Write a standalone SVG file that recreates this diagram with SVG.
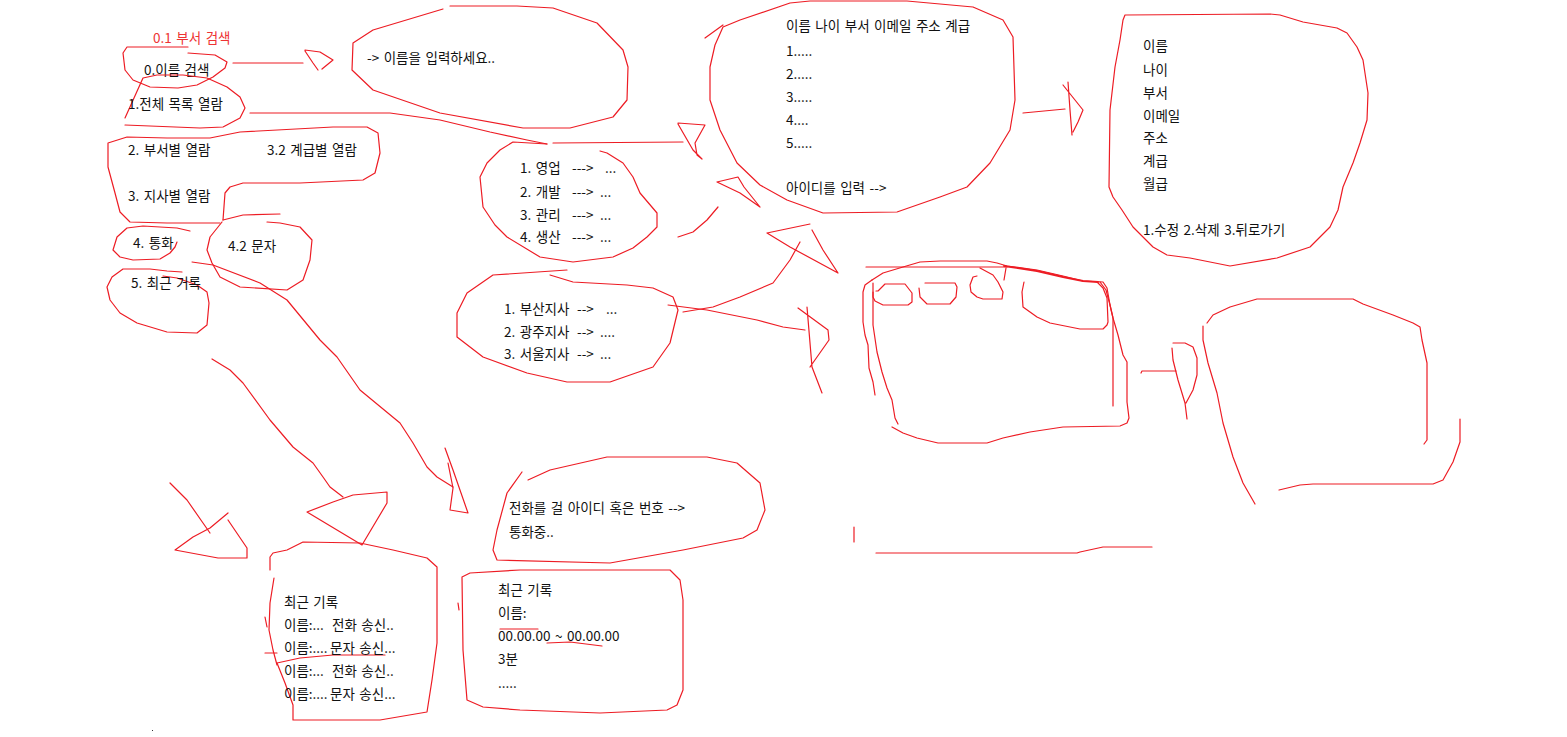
<svg xmlns="http://www.w3.org/2000/svg" width="1567" height="737" viewBox="0 0 1567 737">
<style>
.s{fill:none;stroke:#ed1c24;stroke-width:1.2;stroke-linejoin:round;stroke-linecap:round}
.thick{fill:none;stroke:#ed1c24;stroke-width:1.9;stroke-linecap:round}
.t{font-family:"Noto Sans CJK KR","Noto Sans",sans-serif;font-size:13.5px;fill:#111;word-spacing:1.5px}
.r{fill:#ee3333}
</style>
<rect width="1567" height="737" fill="#fff"/>

<g id="title">
<text class="t r" x="153" y="43">0.1 부서 검색</text>
</g>

<g id="n-search-name">
<path class="s" d="M188,47 L127,47 L123,53 L125,70 L133,80 L150,87 L178,88 L197,85 L213,77 L225,68 L227,62 L215,55 L188,53"/>
<text class="t" x="144" y="75">0.이름 검색</text>
</g>

<g id="n-list-all">
<path class="s" d="M143,78 L125,118 M143,78 L157,75 L183,75 L207,78 L227,87 L240,97 L245,108 L240,118 L223,127 L200,128 L125,125"/>
<text class="t" x="128" y="109">1.전체 목록 열람</text>
</g>

<g id="n-dept-branch">
<path class="s" d="M223,220 L225,193 L230,187 L243,183 L300,183 L363,180 L375,173 L380,153 L378,133 L367,127 L333,127 L240,132 L210,138 L167,138 L127,137 L108,143 L108,167 L115,193 L120,212 L130,222 L167,223 L220,223"/>
<text class="t" x="128" y="155">2. 부서별 열람</text>
<text class="t" x="267" y="155">3.2 계급별 열람</text>
<text class="t" x="128" y="201">3. 지사별 열람</text>
</g>

<g id="n-call">
<path class="s" d="M190,231 L177,228 L143,226 L127,228 L117,237 L113,250 L120,257 L133,260 L160,259 L170,253 L175,247 L177,242"/>
<text class="t" x="133" y="248">4. 통화</text>
</g>

<g id="n-sms">
<path class="s" d="M222,222 L210,237 L207,250 L212,263 L220,277 L240,287 L287,290 L303,280 L310,260 L312,240 L300,227 L280,223 L267,222 M223,220 L243,215 L280,214"/>
<text class="t" x="228" y="251">4.2 문자</text>
</g>

<g id="n-recent">
<path class="s" d="M182,272 L167,271 L150,269 L123,269 L112,277 L107,287 L110,300 L120,313 L137,323 L167,332 L197,333 L207,325 L209,303 L207,292 L197,285 L177,278 L163,276"/>
<text class="t" x="131" y="288">5. 최근 거록</text>
</g>

<g id="n-name-input">
<path class="s" d="M450,6 L517,6 L553,8 L597,23 L623,50 L628,67 L627,100 L613,117 L570,128 L523,128 L440,113 L373,90 L352,70 L353,43 L373,30 L443,9"/>
<text class="t" x="367" y="63">-&gt; 이름을 입력하세요..</text>
</g>

<g id="n-depts">
<path class="s" d="M547,144 L513,142 L500,150 L487,163 L480,177 L483,207 L495,225 L507,237 L540,257 L573,262 L613,257 L633,248 L647,237 L657,227 L657,213 L640,193 L633,177 L623,163 L607,153 L600,151"/>
<text class="t"><tspan x="520" y="173">1. 영업</tspan><tspan x="572" y="173">---&gt;</tspan><tspan x="605" y="173">...</tspan></text>
<text class="t"><tspan x="520" y="197">2. 개발</tspan><tspan x="572" y="197">---&gt;</tspan><tspan x="600" y="197">...</tspan></text>
<text class="t"><tspan x="520" y="220">3. 관리</tspan><tspan x="572" y="220">---&gt;</tspan><tspan x="600" y="220">...</tspan></text>
<text class="t"><tspan x="520" y="242">4. 생산</tspan><tspan x="572" y="242">---&gt;</tspan><tspan x="600" y="242">...</tspan></text>
</g>

<g id="n-list">
<path class="s" d="M705,38 L723,25 M723,27 L715,45 L710,67 L710,100 L720,130 L737,163 L760,185 L787,200 L823,213 L897,212 L940,197 L967,187 L990,163 L1010,130 L1015,100 L1013,37 L1003,20 L973,7 L907,1 L810,1 L790,3 L740,20 L723,27"/>
<text class="t" x="786" y="31">이름 나이 부서 이메일 주소 계급</text>
<text class="t" x="786" y="56">1.....</text>
<text class="t" x="786" y="79">2.....</text>
<text class="t" x="786" y="102">3.....</text>
<text class="t" x="786" y="125">4....</text>
<text class="t" x="786" y="148">5.....</text>
<text class="t" x="786" y="193">아이디를 입력 --&gt;</text>
</g>

<g id="n-detail">
<path class="s" d="M1125,15 L1123,20 L1120,40 L1115,67 L1110,110 L1109,187 L1113,197 L1122,210 L1133,227 L1153,247 L1167,255 L1190,258 L1230,266 L1277,258 L1310,247 L1330,227 L1338,210 L1343,187 L1353,163 L1360,143 L1367,120 L1368,93 L1363,60 L1357,47 L1347,33 L1337,28 L1303,22 L1280,15 L1270,14 L1125,15"/>
<text class="t" x="1143" y="51">이름</text>
<text class="t" x="1143" y="75">나이</text>
<text class="t" x="1143" y="98">부서</text>
<text class="t" x="1143" y="121">이메일</text>
<text class="t" x="1143" y="143">주소</text>
<text class="t" x="1143" y="166">계급</text>
<text class="t" x="1143" y="189">월급</text>
<text class="t" x="1143" y="235">1.수정 2.삭제 3.뒤로가기</text>
</g>

<g id="n-branches">
<path class="s" d="M567,270 L493,275 L467,293 L457,313 L457,337 L483,357 L527,373 L567,382 L610,382 L653,367 L670,343 L678,310 L673,297 L653,288 L627,285 L573,282 L550,275"/>
<text class="t"><tspan x="504" y="314">1. 부산지사</tspan><tspan x="577" y="314">--&gt;</tspan><tspan x="606" y="314">...</tspan></text>
<text class="t"><tspan x="504" y="337">2. 광주지사</tspan><tspan x="577" y="337">--&gt;</tspan><tspan x="600" y="337">....</tspan></text>
<text class="t"><tspan x="504" y="359">3. 서울지사</tspan><tspan x="577" y="359">--&gt;</tspan><tspan x="600" y="359">...</tspan></text>
</g>

<g id="n-phone">
<path class="s" d="M866,267 L1007,267"/>
<path class="s" d="M872,280 L883,273 L903,267 L920,262 L940,261 L987,261 L997,263 L1007,266 L1037,270 L1063,276 L1083,281 L1103,282 L1107,288 L1110,305 L1113,318 L1118,335 L1123,355 L1127,362 L1127,402 L1129,418 L1127,423 L1120,426 L1063,427 L1030,432 L1003,438 L987,443 L938,443 L917,438 L903,433 L892,427"/>
<path class="thick" d="M1004,266 L1037,271 L1063,277 L1083,281 L1098,282"/>
<path class="s" d="M872,280 L865,285 L863,292 L863,322 L865,335 L868,345 L869,368 L873,382 L875,395"/>
<path class="s" d="M873,283 L873,325 L877,352 L882,372 L887,388 L892,400 L895,418 L898,424"/>
<path class="s" d="M1100,282 L1106,290 L1110,305 L1113,318 L1113,406"/>
<path class="s" d="M1024,282 L1022,292 L1023,307 L1037,317 L1050,323 L1080,329 L1103,329 L1107,325 L1108,322 L1107,298 L1103,288 L1097,282"/>
<path class="s" d="M876,291 L878,291 L885,284 L905,284 L912,293 L912,302 L908,305 L883,305 L875,301 L873,297 L873,292"/>
<path class="s" d="M925,283 L955,283 L957,287 L956,297 L950,304 L927,304 L920,297 L919,288"/>
<path class="s" d="M977,276 L973,277 L970,285 L971,292 L977,297 L983,299 L1002,299 L1003,292 L998,282 L993,275 L980,268"/>
<path class="s" d="M1006,268 L1004,280"/>
</g>

<g id="n-screen">
<path class="s" d="M1207,323 L1213,315 L1230,307 L1257,299 L1353,299 L1363,304 L1393,315 L1413,323 L1420,327 L1422,340 L1427,363 L1427,440 L1424,444"/>
<path class="s" d="M1203,326 L1203,340 L1208,363 L1217,393 L1223,423 L1233,457 L1243,483 L1255,504"/>
<path class="s" d="M1279,490 L1300,485 L1313,484 L1433,484 L1443,480 L1453,462 L1460,442 L1460,419"/>
</g>

<g id="n-bottom-lines">
<path class="s" d="M854,527 L854,542"/>
<path class="s" d="M876,553 L1077,553 L1080,552 L1103,547 L1152,547"/>
</g>

<g id="n-call-box">
<path class="s" d="M528,480 L550,470 L607,457 L707,457 L737,463 L760,483 L765,510 L757,530 L743,538 L683,550 L610,563 L497,560 L493,550 L497,530 L507,493 L522,472"/>
<text class="t" x="509" y="513">전화를 걸 아이디 혹은 번호 --&gt;</text>
<text class="t" x="509" y="537">통화중..</text>
</g>

<g id="n-recent-list">
<path class="s" d="M270,570 L270,557 L273,553 L287,550 L303,542 L360,543 L393,550 L427,558 L437,567 L437,597 L437,643 L432,680 L427,712 L380,720 L293,720 L293,705 L285,683 L277,663"/>
<path class="s" d="M274,578 L270,603 L269,630 L273,650 L277,665 M265,617 L267,627 M265,653 L277,653 M277,663 L300,658 L333,655 L385,655"/>
<text class="t" x="284" y="607">최근 기록</text>
<text class="t"><tspan x="284" y="630">이름:...</tspan><tspan x="332" y="630">전화 송신..</tspan></text>
<text class="t"><tspan x="284" y="653">이름:....</tspan><tspan x="330" y="653">문자 송신...</tspan></text>
<text class="t"><tspan x="284" y="676">이름:...</tspan><tspan x="332" y="676">전화 송신..</tspan></text>
<text class="t"><tspan x="284" y="699">이름:....</tspan><tspan x="330" y="699">문자 송신...</tspan></text>
</g>

<g id="n-recent-detail">
<path class="s" d="M462,577 L470,573 L520,570 L670,570 L680,580 L683,600 L683,690 L677,705 L667,710 L600,713 L520,710 L483,707 L467,700 L463,650 L462,577 M458,603 L459,610"/>
<path class="s" d="M500,629 L538,629 M547,643 L570,642 L602,646"/>
<text class="t" x="498" y="595">최근 기록</text>
<text class="t" x="498" y="618">이름:</text>
<text class="t" x="498" y="641">00.00.00 ~ 00.00.00</text>
<text class="t" x="498" y="664">3분</text>
<text class="t" x="498" y="688">.....</text>
</g>

<g id="connectors">
<path class="s" d="M233,63 L303,63"/>
<path class="s" d="M305,50 L320,52 L333,60 L322,69 M305,51 L313,63 L318,70"/>
<path class="s" d="M250,113 L390,113 L440,120 L490,132 L527,140 L547,144 M553,143 L683,142"/>
<path class="s" d="M678,123 L705,125 L695,143 L697,155 L702,159 M678,124 L693,150 L702,159"/>
<path class="s" d="M678,237 L693,232 L707,220 L718,207"/>
<path class="s" d="M717,182 L738,177 L744,187 L760,207 M717,182 L740,193 L760,207"/>
<path class="s" d="M1023,113 L1065,109"/>
<path class="s" d="M1068,82 L1070,110 L1072,135 M1063,85 L1075,100 L1083,110 L1078,122 L1073,132"/>
<path class="s" d="M683,312 L713,307 L740,297 L773,283 L790,260 L800,242"/>
<path class="s" d="M767,233 L810,224 M767,233 L790,247 L838,273 M812,230 L823,250 L838,273"/>
<path class="s" d="M668,305 L707,310 L757,320 L783,327 L805,330"/>
<path class="s" d="M798,308 L828,330 L829,340 L810,367 M807,307 L812,367 L822,393"/>
<path class="s" d="M1141,373 L1142,371 L1176,371"/>
<path class="s" d="M1173,343 L1185,343 L1193,347 L1197,358 L1197,375 L1193,390 L1186,403 M1172,348 L1173,360 L1178,380 L1185,403 L1187,419"/>
<path class="s" d="M192,262 L213,265 L260,283 L287,300 L320,340 L337,357 L360,390 L400,423 L413,443 L427,467 L437,477 L453,487"/>
<path class="s" d="M445,448 L453,470 L468,513 L450,510 L453,488 L448,463"/>
<path class="s" d="M212,359 L230,370 L243,383 L270,420 L293,447 L313,463 L323,477 L330,487 L343,497"/>
<path class="s" d="M362,545 L307,512 L333,502 L353,495 L387,492 L387,503 L362,545"/>
<path class="s" d="M170,483 L187,500 L203,523 L210,533"/>
<path class="s" d="M228,513 L210,528 L193,537 L175,550 L218,558 L247,558 L247,548 L228,520"/>
</g>

<rect x="152" y="730" width="1" height="1" fill="#333"/>
</svg>
